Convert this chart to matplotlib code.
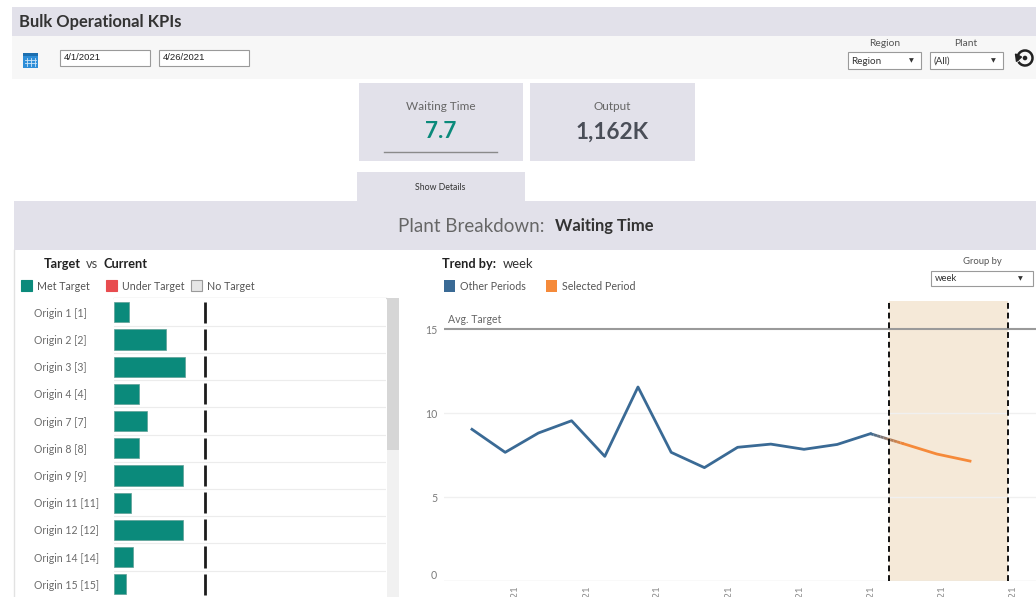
import datetime as dt
import matplotlib
matplotlib.use("Agg")
import matplotlib.pyplot as plt
import matplotlib.dates as mdates
from matplotlib.patches import Rectangle, Arc, Polygon, Circle
from matplotlib.collections import LineCollection
from matplotlib.ticker import FuncFormatter, FixedLocator
import numpy as np

plt.rcParams["font.family"] = ["Lato", "DejaVu Sans"]

W, H = 1036, 597

# ---- data ----
origins = ["Origin 1 [1]", "Origin 2 [2]", "Origin 3 [3]", "Origin 4 [4]",
           "Origin 7 [7]", "Origin 8 [8]", "Origin 9 [9]", "Origin 11 [11]",
           "Origin 12 [12]", "Origin 14 [14]", "Origin 15 [15]"]
current_wait = [2.4, 8.6, 11.7, 4.1, 5.5, 4.1, 11.4, 2.75, 11.4, 3.2, 1.9]
target_wait = [15, 15, 15, 15, 15, 15, 15, 15, 15, 15, 15]

week_start = ["2021-01-03", "2021-01-10", "2021-01-17", "2021-01-24",
              "2021-01-31", "2021-02-07", "2021-02-14", "2021-02-21",
              "2021-02-28", "2021-03-07", "2021-03-14", "2021-03-21",
              "2021-03-28", "2021-04-04", "2021-04-11", "2021-04-18"]
weekly_wait = [9.03, 7.66, 8.81, 9.54, 7.42, 11.55, 7.66, 6.75,
               7.96, 8.15, 7.84, 8.13, 8.77, 8.17, 7.56, 7.14]
date_axis_ticks = ["2021-01-12", "2021-01-27", "2021-02-11", "2021-02-26",
                   "2021-03-13", "2021-03-28", "2021-04-12", "2021-04-27"]
selected_from = "2021-04-01"
selected_to = "2021-04-26"
avg_target = 15

kpi_labels = ["Waiting Time", "Output"]
kpi_values = ["7.7", "1,162K"]

TEAL = "#0b8a7b"
BLUE = "#3a6a95"
ORANGE = "#f58a3a"
BAND = "#e2e1ea"


def to_num(s):
    return mdates.date2num(dt.datetime.strptime(s, "%Y-%m-%d"))


def px_axes(x0, y0, x1, y1):
    return fig.add_axes([x0 / W, 1 - y1 / H, (x1 - x0) / W, (y1 - y0) / H])


fig = plt.figure(figsize=(W / 100, H / 100), dpi=100, facecolor="white")

# overlay for the dashboard chrome, in pixel units
ov = fig.add_axes([0, 0, 1, 1])
ov.set_xlim(0, W)
ov.set_ylim(H, 0)
ov.axis("off")


def box(x0, y0, x1, y1, fc, ec="none", lw=0):
    ov.add_patch(Rectangle((x0, y0), x1 - x0, y1 - y0, facecolor=fc,
                           edgecolor=ec, linewidth=lw))


def txt(x, y, s, **kw):
    kw.setdefault("va", "center")
    ov.text(x, y, s, **kw)


# header + filter bands
box(12, 7, W, 36, BAND)
box(12, 36, W, 79, "#f7f7f7")
txt(19, 22.5, "Bulk Operational KPIs", fontsize=11.9, fontweight="bold", color="#333333")

# calendar icon
box(23, 53, 38, 68, "#2e8ed8")
box(23, 53, 38, 56, "#1d6fb0")
for gx in (26.5, 30.5, 34.5):
    ov.plot([gx, gx], [58, 66], color="#cfe6f8", lw=0.6)
for gy in (60, 63):
    ov.plot([25, 36], [gy, gy], color="#cfe6f8", lw=0.6)

# date inputs
for x0, s in ((60, "4/1/2021"), (159, "4/26/2021")):
    box(x0, 50, x0 + 90, 66, "white", "#9a9a9a", 0.8)
    txt(x0 + 4, 58, s, fontsize=6.8, family=["Liberation Sans"], color="#222222")

# region / plant filters
for cx, x0, lab, val in ((885, 848, "Region", "Region"), (966, 930, "Plant", "(All)")):
    txt(cx, 44, lab, fontsize=7.4, color="#555555", ha="center")
    box(x0, 52, x0 + 73, 69, "white", "#9a9a9a", 0.8)
    txt(x0 + 3, 61, val, fontsize=7.1, color="#333333")
    txt(x0 + 61, 61, "\u25BC", fontsize=4.5, color="#333333", family=["DejaVu Sans"])

# reset icon
ov.add_patch(Arc((1025, 58), 15, 15, theta1=-200, theta2=150, color="#222222", lw=1.8))
ov.add_patch(Polygon([[1015.5, 54], [1021.5, 57], [1016.5, 61.5]], closed=True,
                     color="#222222"))
ov.add_patch(Circle((1025, 58), 1.6, color="#222222"))

# KPI cards
for (x0, x1), lab, val, col in zip(((359, 523), (530, 695)), kpi_labels, kpi_values,
                                   (TEAL, "#4a4e58")):
    box(x0, 83, x1, 161, BAND)
    cx = (x0 + x1) / 2
    txt(cx, 107, lab, fontsize=8.5, color="#666666", ha="center")
    txt(cx, 132, val, fontsize=16.3, fontweight="bold", color=col, ha="center")
ov.plot([384, 497], [152, 152], color="#8a8a8a", lw=1)

# Show details tab + breakdown band
box(357, 172, 525, 201, BAND)
txt(440, 187, "Show Details", fontsize=6.3, color="#333333", ha="center")
box(14, 201, W, 250, BAND)
txt(545, 226, "Plant Breakdown:", fontsize=13.5, color="#666666", ha="right")
txt(555, 226, "Waiting Time", fontsize=11.9, fontweight="bold", color="#333333")
ov.plot([14, 14], [250, H], color="#e2e2e2", lw=1)

# left panel heading + legend
txt(44, 264, "Target", fontsize=9.2, fontweight="bold", color="#222222")
txt(86, 264, "vs", fontsize=9.2, color="#444444")
txt(103, 264, "Current", fontsize=9.2, fontweight="bold", color="#222222")
for x0, fc, ec, lab in ((21, TEAL, TEAL, "Met Target"),
                        (106, "#e84c4f", "#e84c4f", "Under Target"),
                        (191, "#e6e6e6", "#9a9a9a", "No Target")):
    box(x0, 280, x0 + 11, 291, fc, ec, 0.8)
    txt(x0 + 16, 286, lab, fontsize=7.7, color="#555555")

# right panel heading + legend + group by
txt(442, 264, "Trend by:", fontsize=9.2, fontweight="bold", color="#222222")
txt(503, 264, "week", fontsize=9.4, color="#333333")
for x0, fc, lab in ((444, BLUE, "Other Periods"), (546, ORANGE, "Selected Period")):
    box(x0, 280, x0 + 11, 292, fc)
    txt(x0 + 16, 286, lab, fontsize=7.7, color="#555555")
txt(982, 262, "Group by", fontsize=6.8, color="#555555", ha="center")
box(931, 271, 1033, 286, "white", "#9a9a9a", 0.8)
txt(935, 278.5, "week", fontsize=6.8, color="#333333")
txt(1018, 278.5, "\u25BC", fontsize=4.5, color="#333333", family=["DejaVu Sans"])

# scrollbar beside the bar list
box(386.5, 298, 399, H, "#f1f1f1")
box(386.5, 298, 399, 450, "#d6d6d6")
ov.plot([114, 386], [298, 298], color="#d8d8d8", lw=1)

# ---- Target vs Current bars ----
bax = px_axes(114, 298, 386, H)
bax.set_facecolor("white")
rows = np.arange(len(origins))
bax.barh(rows, current_wait, height=0.74, color=TEAL, edgecolor="#5f9f96", lw=0.5,
         zorder=3)
bax.vlines(target_wait, rows - 0.39, rows + 0.39, color="#1c1c1c", lw=2, zorder=4)
for r in rows[:-1]:
    bax.axhline(r + 0.5, color="#ececec", lw=0.8, zorder=1)
bax.set_xlim(0, 44.8)
bax.set_ylim(10.47, -0.526)
bax.set_xticks([])
bax.set_yticks(rows)
bax.set_yticklabels(origins, ha="left", fontsize=7.6, color="#6b6b6b")
bax.tick_params(axis="y", length=0, pad=57.6)
for sp in bax.spines.values():
    sp.set_visible(False)

# ---- weekly trend ----
lax = px_axes(444, 301, W, 581)
lax.set_facecolor("none")
xs = np.array([to_num(d) for d in week_start])
ys = np.array(weekly_wait)
sel = xs >= to_num(selected_from)
first_sel = int(np.argmax(sel))

lax.axvspan(to_num(selected_from), to_num(selected_to), color="#f5e9d8", zorder=0, lw=0)
for d in (selected_from, selected_to):
    lax.axvline(to_num(d), color="#111111", lw=1.4, ls=(0, (3, 2)), zorder=5)
for g in (5, 10):
    lax.axhline(g, color="#f0f0f0", lw=1, zorder=1)
lax.axhline(0, color="#e4e4e4", lw=1, zorder=1)
lax.axhline(avg_target, color="#9a9a9a", lw=1.5, zorder=2)
lax.text(0.006, avg_target + 0.25, "Avg. Target", transform=lax.get_yaxis_transform(),
         fontsize=7.6, color="#666666", va="bottom")

lax.plot(xs[:first_sel], ys[:first_sel], color=BLUE, lw=2, zorder=4)
lax.plot(xs[first_sel:], ys[first_sel:], color=ORANGE, lw=2, zorder=4)
# colour blend on the step into the selected period
t = np.linspace(0, 1, 11)
bx = xs[first_sel - 1] + t * (xs[first_sel] - xs[first_sel - 1])
by = ys[first_sel - 1] + t * (ys[first_sel] - ys[first_sel - 1])
segs = [[(bx[i], by[i]), (bx[i + 1], by[i + 1])] for i in range(10)]
c0, c1 = np.array(matplotlib.colors.to_rgb(BLUE)), np.array(matplotlib.colors.to_rgb(ORANGE))
cols = [tuple(c0 + (c1 - c0) * (i + 0.5) / 10) for i in range(10)]
lax.add_collection(LineCollection(segs, colors=cols, linewidths=2, zorder=4))

x_left = xs[0] - 5.9
lax.set_xlim(x_left, x_left + (W - 444) / 4.743)
lax.set_ylim(0, 16.67)
lax.set_yticks([0, 5, 10, 15])
lax.tick_params(axis="y", length=0, pad=5, labelsize=7.6, labelcolor="#7a7a7a")
lax.yaxis.get_ticklabels()[0].set_va("bottom")
lax.xaxis.set_major_locator(FixedLocator([to_num(d) for d in date_axis_ticks]))
lax.xaxis.set_major_formatter(FuncFormatter(
    lambda v, p: (lambda d: f"{d.month}/{d.day}/{d.year}")(mdates.num2date(v))))
lax.tick_params(axis="x", length=0, pad=3, labelsize=7, labelcolor="#8a8a8a",
                labelrotation=90)
for sp in lax.spines.values():
    sp.set_visible(False)

fig.savefig("out.png", dpi=100, facecolor="white")
